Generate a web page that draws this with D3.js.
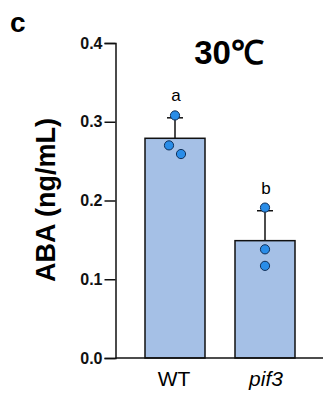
<!DOCTYPE html>
<html>
<head>
<meta charset="utf-8">
<script src="https://cdn.jsdelivr.net/npm/d3@7"></script>
<style>
  body { margin: 0; background: #fff; }
  svg { display: block; font-family: "Liberation Sans", Arial, sans-serif; }
</style>
</head>
<body>
<div id="chart"></div>
<script>
const genotypes = ["WT", "pif3"];
const means = [0.279, 0.149];
const sds = [0.026, 0.038];
const letters = ["a", "b"];
const replicates = [
  [0.308, 0.270, 0.259],
  [0.191, 0.138, 0.117]
];
const jitter = [
  [0, -6, 6],
  [0, 0, 0]
];
const yTicks = [0.0, 0.1, 0.2, 0.3, 0.4];

const width = 323, height = 397;
const svg = d3.select("#chart").append("svg")
  .attr("width", width).attr("height", height);

const y = d3.scaleLinear().domain([0, 0.4]).range([358, 43]);
const x = d3.scaleBand().domain(genotypes).range([115, 325]).paddingInner(1 / 3).paddingOuter(1 / 3);

// bars
svg.selectAll("rect.bar")
  .data(genotypes)
  .enter().append("rect")
  .attr("class", "bar")
  .attr("x", d => x(d))
  .attr("width", x.bandwidth())
  .attr("y", (d, i) => y(means[i]))
  .attr("height", (d, i) => y(0) - y(means[i]))
  .attr("fill", "#a5c0e6")
  .attr("stroke", "#111")
  .attr("stroke-width", 1.5);

// error bars (upward only)
genotypes.forEach((g, i) => {
  const cx = x(g) + x.bandwidth() / 2;
  svg.append("line")
    .attr("x1", cx).attr("x2", cx)
    .attr("y1", y(means[i])).attr("y2", y(means[i] + sds[i]))
    .attr("stroke", "#111").attr("stroke-width", 1.5);
  svg.append("line")
    .attr("x1", cx - 8).attr("x2", cx + 8)
    .attr("y1", y(means[i] + sds[i])).attr("y2", y(means[i] + sds[i]))
    .attr("stroke", "#111").attr("stroke-width", 1.5);
  svg.append("text")
    .attr("x", cx + 1).attr("y", y(means[i] + sds[i]) - 17)
    .attr("text-anchor", "middle")
    .attr("font-size", 17)
    .text(letters[i]);
});

// replicate points
genotypes.forEach((g, i) => {
  const cx = x(g) + x.bandwidth() / 2;
  svg.selectAll(null)
    .data(replicates[i])
    .enter().append("circle")
    .attr("cx", (d, j) => cx + jitter[i][j])
    .attr("cy", d => y(d))
    .attr("r", 4.6)
    .attr("fill", "#2a8de8")
    .attr("stroke", "#10305a")
    .attr("stroke-width", 1);
});

// y axis
const yAxis = svg.append("g")
  .attr("transform", "translate(115.5,0)")
  .call(d3.axisLeft(y).tickValues(yTicks).tickFormat(d3.format(".1f")).tickSize(11).tickPadding(2));
yAxis.select(".domain").attr("stroke", "#111").attr("stroke-width", 1.5);
yAxis.selectAll(".tick line").attr("stroke", "#111").attr("stroke-width", 1.5);
yAxis.selectAll(".tick text")
  .attr("fill", "#111")
  .attr("font-size", 16)
  .attr("font-weight", "bold")
  .attr("font-family", "Liberation Sans, Arial, sans-serif");

// x axis line
svg.append("line")
  .attr("x1", 115.5).attr("x2", 323)
  .attr("y1", y(0)).attr("y2", y(0))
  .attr("stroke", "#111").attr("stroke-width", 1.5);

// x labels
genotypes.forEach((g, i) => {
  svg.append("text")
    .attr("x", x(g) + x.bandwidth() / 2 + (i === 1 ? 1 : -1))
    .attr("y", 386)
    .attr("text-anchor", "middle")
    .attr("font-size", 21)
    .attr("font-style", i === 1 ? "italic" : "normal")
    .text(g);
});

// y label
svg.append("text")
  .attr("transform", "translate(55,200) rotate(-90)")
  .attr("text-anchor", "middle")
  .attr("font-size", 27)
  .attr("font-weight", "bold")
  .text("ABA (ng/mL)");

// title
svg.append("text")
  .attr("x", 229).attr("y", 64)
  .attr("text-anchor", "middle")
  .attr("font-size", 33)
  .attr("font-weight", "bold")
  .text("30℃");

// panel letter
svg.append("text")
  .attr("x", 10).attr("y", 32)
  .attr("font-size", 28)
  .attr("font-weight", "bold")
  .text("c");
</script>
</body>
</html>
